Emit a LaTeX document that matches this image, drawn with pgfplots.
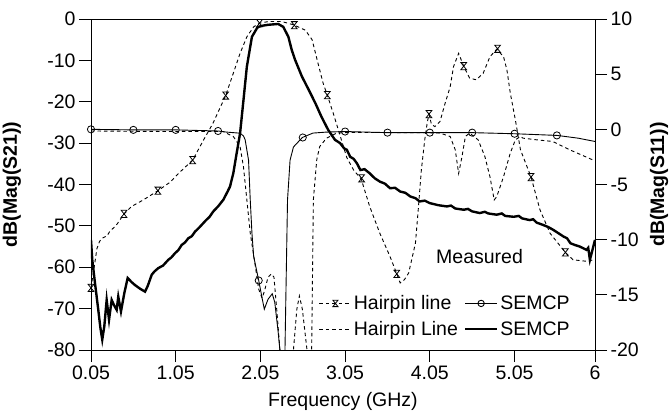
\documentclass[border=0pt]{standalone}
\usepackage{fontspec}
\setmainfont{Liberation Sans}
\usepackage{pgfplots}
\pgfplotsset{compat=1.18}

% hourglass mark: two bars joined by crossing diagonals
\pgfdeclareplotmark{hourglass}{%
  \pgfpathmoveto{\pgfqpoint{-0.8\pgfplotmarksize}{\pgfplotmarksize}}%
  \pgfpathlineto{\pgfqpoint{0.8\pgfplotmarksize}{\pgfplotmarksize}}%
  \pgfpathlineto{\pgfqpoint{-0.8\pgfplotmarksize}{-\pgfplotmarksize}}%
  \pgfpathlineto{\pgfqpoint{0.8\pgfplotmarksize}{-\pgfplotmarksize}}%
  \pgfpathclose
  \pgfusepathqstroke}

\newcommand\fs{\fontsize{19.5bp}{23bp}\selectfont}

\pgfplotsset{
  base/.style={width=504bp, height=331bp, scale only axis,
    xmin=0.05, xmax=6,
    tick align=outside, major tick length=12bp,
    tick style={black, line width=0.8pt},
    tick label style={font=\fs},
    /pgf/number format/assume math mode=true,
    axis line style={line width=0.9pt}},
  hp21/.style={black, line width=0.9pt, dash pattern=on 3.5bp off 3bp},
  hp11/.style={black, line width=0.9pt, dash pattern=on 3.5bp off 3bp},
  se11/.style={black, line width=0.9pt},
  se21/.style={black, line width=2.4pt},
  hpmark/.style={black, only marks, mark=hourglass, mark size=3.6bp, mark options={solid, line width=0.8pt}},
  semark/.style={black, only marks, mark=o, mark size=3.6bp, mark options={solid, line width=0.8pt}},
}

\begin{document}
\begin{tikzpicture}
\begin{axis}[base,
  xtick={0.05,1.05,2.05,3.05,4.05,5.05,6},
  xticklabels={0.05,1.05,2.05,3.05,4.05,5.05,6},
  xtick pos=bottom, ytick pos=left,
  ymin=-80, ymax=0, ytick={-80,-70,-60,-50,-40,-30,-20,-10,0},
  xlabel={Frequency (GHz)},
  xlabel style={font=\fs, at={(axis description cs:0.5,-0.154)}, anchor=center},
  ylabel={dB(Mag(S21))},
  ylabel style={font=\fs\bfseries, at={(axis description cs:-0.157,0.5)}, anchor=center, rotate=0},
]
% Hairpin line, S21
\addplot[hp21] coordinates {
(0.05,-65.0)(0.08,-61)(0.12,-55.5)(0.15,-53.8)(0.18,-53.0)(0.24,-52.4)(0.27,-51.4)
(0.35,-49.8)(0.44,-47.1)(0.53,-45.3)(0.67,-43.7)(0.84,-41.5)(0.98,-39.5)(1.10,-37.0)
(1.25,-34.1)(1.38,-29.2)(1.49,-25.2)(1.64,-18.5)(1.73,-13.1)(1.81,-8.3)(1.89,-4.3)
(1.97,-1.9)(2.04,-1.0)(2.15,-0.6)(2.30,-0.6)(2.44,-1.4)(2.58,-2.7)(2.66,-5.0)
(2.73,-10.7)(2.79,-15.5)(2.84,-18.4)(2.91,-22.8)(2.97,-26.8)(3.07,-33.5)(3.15,-36.5)
(3.24,-38.7)(3.34,-45.3)(3.46,-51.8)(3.58,-57.4)(3.66,-61.6)(3.70,-63.8)(3.75,-63.0)
(3.80,-61.4)(3.88,-54.2)(3.91,-46.9)(3.95,-36.5)(3.99,-29.2)(4.02,-25)(4.04,-23.0)
(4.07,-25.5)(4.11,-26.0)(4.17,-24.8)(4.23,-20.4)(4.29,-16.4)(4.33,-11.5)(4.39,-8.3)
(4.45,-11.4)(4.52,-14.3)(4.60,-14.7)(4.68,-13.1)(4.76,-9.1)(4.84,-7.3)(4.92,-9.1)
(4.96,-12.3)(5.00,-17.9)(5.06,-24.4)(5.12,-31.6)(5.245,-38.2)(5.35,-46.1)(5.47,-51.8)
(5.65,-56.4)(5.74,-58.2)(5.92,-58.6)(6.00,-58.0)
};
\addplot[hpmark] coordinates {
(0.05,-65.0)(0.44,-47.1)(0.84,-41.5)(1.25,-34.1)(1.64,-18.5)(2.04,-1.0)(2.45,-1.5)
(2.84,-18.4)(3.245,-38.5)(3.66,-61.6)(4.04,-23.0)(4.45,-11.4)(4.85,-7.2)(5.245,-38.2)
(5.65,-56.4)
};
% SEMCP, S21
\addplot[se21] coordinates {
(0.05,-53.4)(0.065,-58.2)(0.097,-63.8)(0.136,-70.3)(0.160,-74.5)(0.183,-77.5)
(0.207,-74.3)(0.235,-67.9)(0.263,-72.7)(0.294,-67.9)(0.32,-69.1)(0.353,-70.3)
(0.372,-67.1)(0.404,-70.7)(0.443,-66.3)(0.483,-62.6)(0.53,-63.6)(0.569,-64.3)
(0.63,-65.2)(0.688,-65.9)(0.72,-64.5)(0.767,-61.8)(0.80,-61.0)(0.845,-60.2)
(0.90,-59.6)(0.963,-58.2)(1.00,-57.6)(1.042,-56.6)(1.08,-55.9)(1.121,-54.6)
(1.16,-54.0)(1.199,-53.0)(1.24,-52.5)(1.278,-51.4)(1.337,-50.2)(1.40,-48.8)
(1.45,-47.8)(1.494,-46.5)(1.55,-45.3)(1.612,-43.7)(1.66,-41.8)(1.691,-40.5)
(1.73,-37.3)(1.77,-32.4)(1.81,-27.6)(1.85,-19.6)(1.89,-11.5)(1.95,-4.3)(2.01,-2.2)
(2.025,-1.9)(2.08,-1.6)(2.143,-1.4)(2.20,-1.3)(2.26,-1.2)(2.32,-1.9)(2.38,-4.3)
(2.42,-7.5)(2.46,-9.9)(2.54,-13.9)(2.62,-17.1)(2.70,-20.4)(2.77,-23.6)(2.85,-26.8)
(2.93,-29.2)(2.99,-30.0)(3.04,-31.3)(3.07,-31.6)(3.11,-33.3)(3.15,-33.8)(3.19,-34.9)
(3.23,-36.5)(3.28,-36.3)(3.34,-37.3)(3.40,-38.5)(3.46,-39.3)(3.52,-39.8)(3.58,-40.9)
(3.64,-40.8)(3.70,-41.7)(3.76,-42.0)(3.82,-42.9)(3.88,-43.3)(3.93,-44.1)(3.99,-43.9)
(4.05,-44.5)(4.15,-45.0)(4.25,-45.3)(4.30,-45.1)(4.35,-45.8)(4.45,-46.1)(4.50,-45.9)
(4.55,-46.5)(4.64,-46.9)(4.70,-46.6)(4.74,-47.0)(4.84,-47.3)(4.90,-47.0)(4.94,-47.6)
(5.04,-47.8)(5.10,-47.6)(5.14,-48.2)(5.23,-48.6)(5.27,-48.4)(5.31,-49.2)(5.39,-49.8)
(5.45,-50.3)(5.51,-51.0)(5.57,-51.8)(5.63,-52.6)(5.67,-53.0)(5.71,-54.2)(5.76,-54.6)
(5.82,-55.0)(5.86,-55.4)(5.90,-55.8)(5.92,-55.3)(5.94,-58.2)(5.98,-55.0)(6.00,-53.4)
};
\end{axis}

\begin{axis}[base,
  axis x line=none, axis y line*=right,
  ymin=-20, ymax=10, ytick={-20,-15,-10,-5,0,5,10},
  ylabel={dB(Mag(S11))},
  ylabel style={font=\fs\bfseries, at={(axis description cs:1.127,0.5)}, anchor=center, rotate=0},
  legend columns=2,
  legend cell align=left,
  legend style={draw=none, fill=none, font=\fs, at={(0.703,0.102)}, anchor=center,
    row sep=6bp, /tikz/every even column/.append style={column sep=4bp}},
  legend image code/.code={\draw[mark repeat=2,mark phase=2,#1] plot coordinates {(0bp,0bp) (16bp,0bp) (32bp,0bp)};},
]
\addlegendimage{hp21, mark=hourglass, mark size=3.2bp, mark options={solid, line width=0.8pt}}
\addlegendentry{Hairpin line}
\addlegendimage{se11, mark=o, mark size=3.2bp}
\addlegendentry{SEMCP}
\addlegendimage{hp11}
\addlegendentry{Hairpin Line}
\addlegendimage{se21}
\addlegendentry{SEMCP}
% SEMCP, S11
\addplot[se11, forget plot] coordinates {
(0.05,0.0)(0.55,-0.05)(1.05,-0.05)(1.55,-0.15)(1.65,-0.25)(1.81,-0.35)(1.85,-0.6)
(1.87,-0.95)(1.91,-2.8)(1.93,-6.4)(1.95,-9.4)(1.97,-11.5)(2.03,-13.7)(2.065,-15.1)
(2.096,-16.3)(2.14,-15.4)(2.19,-14.9)(2.22,-15.7)(2.26,-18.4)(2.28,-20.0)(2.31,-23)
(2.34,-20.0)(2.35,-15.4)(2.36,-10.9)(2.37,-6.4)(2.40,-2.8)(2.44,-1.6)(2.545,-0.74)
(2.67,-0.34)(2.83,-0.25)(3.05,-0.2)(3.55,-0.3)(4.05,-0.3)(4.55,-0.3)(5.05,-0.4)
(5.55,-0.55)(5.8,-0.8)(6.0,-1.1)
};
\addplot[semark, forget plot] coordinates {
(0.05,0.0)(0.55,-0.05)(1.05,-0.05)(1.55,-0.15)(2.03,-13.7)(2.55,-0.74)(3.05,-0.2)
(3.55,-0.3)(4.05,-0.3)(4.55,-0.3)(5.05,-0.4)(5.55,-0.55)
};
% Hairpin line, S11
\addplot[hp11, forget plot] coordinates {
(0.05,-0.15)(1.0,-0.2)(1.61,-0.2)(1.73,-0.65)(1.81,-1.56)(1.85,-3.4)(1.89,-6.4)
(1.93,-9.4)(1.99,-12.4)(2.03,-14.5)(2.07,-15.3)(2.10,-14.6)(2.14,-13.4)(2.18,-13.1)
(2.21,-13.4)(2.25,-17.0)(2.28,-20.0)(2.31,-23)(2.40,-23)(2.44,-20)(2.48,-16.3)
(2.51,-15.1)(2.545,-16.3)(2.60,-20)(2.63,-23)(2.655,-20)(2.675,-6.4)(2.715,-2.76)
(2.75,-1.56)(2.83,-0.8)(2.95,-0.34)(3.11,-0.28)(4.0,-0.3)(4.17,-0.34)(4.29,-0.65)
(4.35,-1.85)(4.39,-4.0)(4.43,-2.46)(4.47,-0.65)(4.52,-0.34)(4.62,-0.95)(4.70,-2.46)
(4.76,-4.3)(4.81,-6.4)(4.84,-6.1)(4.92,-4.3)(5.0,-2.15)(5.06,-0.95)(5.12,-0.65)
(5.15,-0.8)(5.31,-0.95)(5.50,-1.1)(5.70,-1.85)(5.97,-2.76)(6.0,-2.8)
};
\node[font=\fs] at (axis description cs:0.771,0.281) {Measured};
\end{axis}

\pgfresetboundingbox
\path[use as bounding box] ([xshift=-91bp,yshift=-63bp]current axis.south west)
  rectangle ([xshift=76bp,yshift=19bp]current axis.north east);
\end{tikzpicture}
\end{document}
